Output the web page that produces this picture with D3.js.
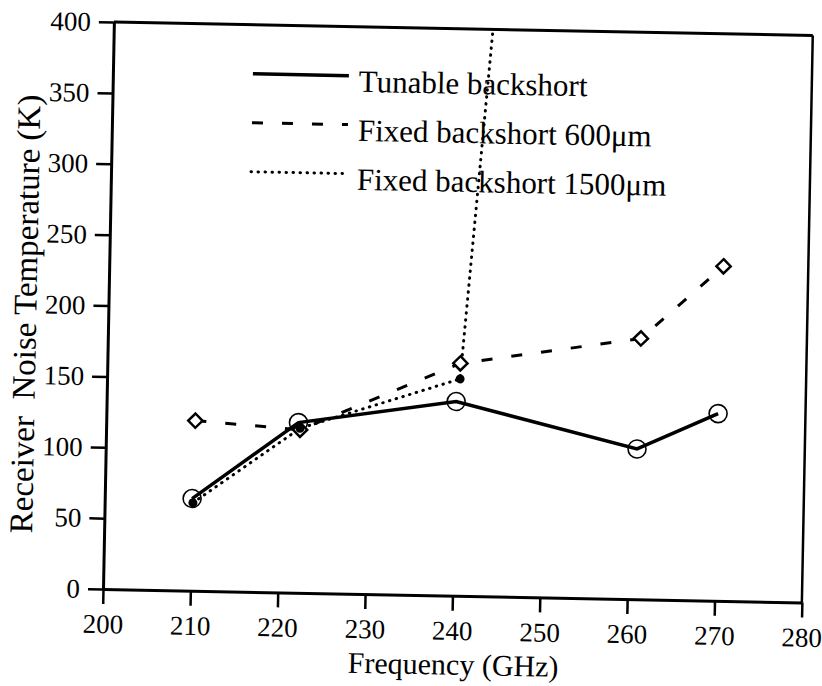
<!DOCTYPE html>
<html>
<head>
<meta charset="utf-8">
<script src="https://cdn.jsdelivr.net/npm/d3@7"></script>
<style>
body { margin: 0; background: #fff; }
text { font-family: "Liberation Serif", "Times New Roman", serif; fill: #000; }
</style>
</head>
<body>
<svg id="chart"></svg>
<script>
// axis ticks
var freqTicks = [200, 210, 220, 230, 240, 250, 260, 270, 280];
var noiseTicks = [0, 50, 100, 150, 200, 250, 300, 350, 400];

// series
var tunableFreq = [210, 222, 240, 260.8, 270];
var tunableNoise = [65, 120, 137, 106, 132];
var fixed600Freq = [210.2, 222.2, 240.4, 261, 270.3];
var fixed600Noise = [120, 115, 164, 184, 236];
var fixed1500Freq = [210.1, 222.2, 240.4, 261];
var fixed1500Noise = [62, 116, 153, 1850]; // last point far off the top, gets clipped

var seriesNames = ["Tunable backshort", "Fixed backshort 600μm", "Fixed backshort 1500μm"];

var serif = '"Liberation Serif", "Times New Roman", serif';
var svgWidth = 822, svgHeight = 686;
var margin = {top: 22, left: 103},
	width = 699,
	height = 567;
var tilt = 1.1; // the scanned page is a little crooked

var svg = d3.select("#chart").attr("width", svgWidth).attr("height", svgHeight);

var g = svg.append("g")
	.attr("transform", "rotate(" + tilt + "," + margin.left + "," + (margin.top + height) + ") translate(" + margin.left + "," + margin.top + ")");

var xScale = d3.scaleLinear().domain([200, 280]).range([0, width]);
var yScale = d3.scaleLinear().domain([0, 400]).range([height, 0]);

g.append("defs").append("clipPath").attr("id", "plotClip")
	.append("rect").attr("x", 0).attr("y", 0).attr("width", width).attr("height", height);

var xax = g.append("g")
	.attr("transform", "translate(0," + height + ")")
	.call(d3.axisBottom(xScale).tickValues(freqTicks).tickSize(15).tickSizeOuter(0).tickPadding(10).tickFormat(d3.format("d")));

var yax = g.append("g")
	.call(d3.axisLeft(yScale).tickValues(noiseTicks).tickSize(15).tickSizeOuter(0).tickPadding(8).tickFormat(d3.format("d")));

[xax, yax].forEach(function(ax) {
	ax.attr("font-family", serif).attr("font-size", 27);
	ax.select(".domain").attr("stroke", "#000").attr("stroke-width", 3);
	ax.selectAll(".tick line").attr("stroke", "#000").attr("stroke-width", 2.5);
	ax.selectAll(".tick text").attr("fill", "#000");
});

// box: top and right edges
g.append("line").attr("x1", 0).attr("x2", width).attr("y1", 0).attr("y2", 0)
	.attr("stroke", "#000").attr("stroke-width", 3);
g.append("line").attr("x1", width).attr("x2", width).attr("y1", 0).attr("y2", height)
	.attr("stroke", "#000").attr("stroke-width", 2.5);

xax.append("text")
	.attr("x", width / 2 + 2)
	.attr("y", 79)
	.attr("text-anchor", "middle")
	.attr("font-size", "30px")
	.attr("fill", "#000")
	.text("Frequency (GHz)");

yax.append("text")
	.attr("transform", "rotate(-90)")
	.attr("text-anchor", "middle")
	.attr("x", -height / 2 - 10)
	.attr("y", -72)
	.attr("font-size", "33px")
	.attr("fill", "#000")
	.style("white-space", "pre")
	.text("Receiver  Noise Temperature (K)");

var line = d3.line()
	.x(function(d) { return xScale(d[0]); })
	.y(function(d) { return yScale(d[1]); });

var plot = g.append("g").attr("clip-path", "url(#plotClip)");

var styles = [
	{dash: null, width: 3.5, cap: "butt"},
	{dash: "11,19", width: 3, cap: "butt"},
	{dash: "0.5,6.5", width: 3, cap: "round"}
];

var seriesData = [
	d3.zip(tunableFreq, tunableNoise),
	d3.zip(fixed600Freq, fixed600Noise),
	d3.zip(fixed1500Freq, fixed1500Noise)
];

seriesData.forEach(function(pts, i) {
	plot.append("path")
		.datum(pts)
		.attr("d", line)
		.attr("fill", "none")
		.attr("stroke", "#000")
		.attr("stroke-width", styles[i].width)
		.attr("stroke-linecap", styles[i].cap)
		.attr("stroke-dasharray", styles[i].dash);
});

// markers: open octagon-ish circles, open diamonds, small filled dots
plot.selectAll(".m0").data(seriesData[0]).enter().append("circle")
	.attr("cx", function(d) { return xScale(d[0]); })
	.attr("cy", function(d) { return yScale(d[1]); })
	.attr("r", 9)
	.attr("fill", "none")
	.attr("stroke", "#000")
	.attr("stroke-width", 1.6);

plot.selectAll(".m1").data(seriesData[1]).enter().append("path")
	.attr("d", d3.symbol().type(d3.symbolDiamond2).size(130))
	.attr("transform", function(d) { return "translate(" + xScale(d[0]) + "," + yScale(d[1]) + ")"; })
	.attr("fill", "#fff")
	.attr("stroke", "#000")
	.attr("stroke-width", 2.5);

plot.selectAll(".m2").data(seriesData[2]).enter().append("circle")
	.attr("cx", function(d) { return xScale(d[0]); })
	.attr("cy", function(d) { return yScale(d[1]); })
	.attr("r", 4.5)
	.attr("fill", "#000");

// legend
var legend = g.append("g").attr("transform", "translate(140,49)");
seriesNames.forEach(function(name, i) {
	legend.append("line")
		.attr("x1", 0).attr("x2", 96)
		.attr("y1", i * 49).attr("y2", i * 49)
		.attr("stroke", "#000")
		.attr("stroke-width", styles[i].width)
		.attr("stroke-linecap", styles[i].cap)
		.attr("stroke-dasharray", styles[i].dash);
	legend.append("text")
		.attr("x", 106)
		.attr("y", i * 49 + 16)
		.attr("font-size", "31px")
		.text(name);
});
</script>
</body>
</html>
